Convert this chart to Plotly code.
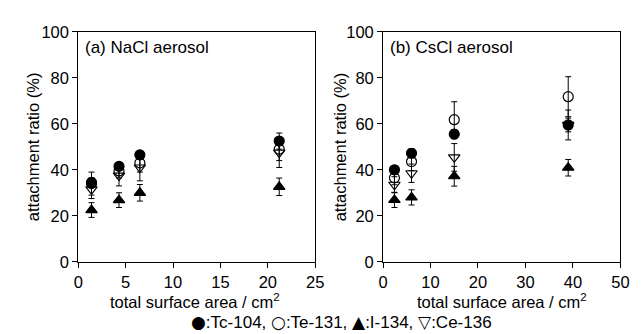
import plotly.graph_objects as go

# ---- data ----
nacl_x = [1.4, 4.3, 6.5, 21.2]
nacl_tc = [34.5, 41.5, 46.5, 52.5]
nacl_tc_err = [2.0, 1.5, 1.8, 3.5]
nacl_te = [34.0, 39.5, 43.0, 49.0]
nacl_te_err = [5.0, 3.0, 4.0, 5.0]
nacl_i = [22.5, 26.8, 30.0, 32.6]
nacl_i_err = [3.2, 3.2, 3.6, 3.8]
nacl_ce = [31.5, 37.5, 41.0, 47.5]
nacl_ce_err = [4.0, 4.5, 5.8, 6.5]

cscl_x = [2.4, 6.0, 15.0, 39.0]
cscl_tc = [40.0, 47.2, 55.5, 59.5]
cscl_tc_err = [1.5, 2.0, 2.0, 3.0]
cscl_te = [36.5, 43.6, 61.8, 71.8]
cscl_te_err = [3.0, 4.0, 7.8, 8.7]
cscl_i = [26.9, 28.0, 37.2, 40.9]
cscl_i_err = [3.3, 3.3, 4.3, 3.6]
cscl_ce = [33.5, 38.5, 45.4, 59.5]
cscl_ce_err = [3.5, 4.0, 6.0, 6.5]

x_ticks_a = [0, 5, 10, 15, 20, 25]
x_ticks_b = [0, 10, 20, 30, 40, 50]
y_ticks = [0, 20, 40, 60, 80, 100]

W, H = 641, 334
FONT = "Liberation Sans, Arial, sans-serif"
FS = 16.5

fig = go.Figure()

def add_series(x, y, err, symbol, xa, ya):
    fig.add_trace(go.Scatter(
        x=x, y=y, mode="markers", xaxis=xa, yaxis=ya,
        marker=dict(symbol=symbol, size=10, color="black",
                    line=dict(color="black", width=1.2)),
        error_y=dict(type="data", array=err, visible=True,
                     color="black", thickness=1, width=3),
        showlegend=False, hoverinfo="skip"))

for xs, sets, xa, ya in [
    (nacl_x, [(nacl_i, nacl_i_err, "triangle-up"),
              (nacl_ce, nacl_ce_err, "triangle-down-open"),
              (nacl_te, nacl_te_err, "circle-open"),
              (nacl_tc, nacl_tc_err, "circle")], "x", "y"),
    (cscl_x, [(cscl_i, cscl_i_err, "triangle-up"),
              (cscl_ce, cscl_ce_err, "triangle-down-open"),
              (cscl_te, cscl_te_err, "circle-open"),
              (cscl_tc, cscl_tc_err, "circle")], "x2", "y2"),
]:
    for y, e, s in sets:
        add_series(xs, y, e, s, xa, ya)

ytop = 1 - 15.7 / H
ybot = 1 - 258.7 / H

axis_common = dict(showgrid=False, zeroline=False, showline=True,
                   linecolor="black", linewidth=1, mirror=True,
                   ticks="outside", ticklen=5, tickcolor="black",
                   tickfont=dict(family=FONT, size=FS, color="black"))

fig.update_layout(
    width=W, height=H,
    margin=dict(l=0, r=0, t=0, b=0),
    paper_bgcolor="white", plot_bgcolor="white",
    font=dict(family=FONT, size=FS, color="black"),
    xaxis=dict(domain=[66.7 / W, 309 / W], range=[0, 25],
               tickvals=x_ticks_a, anchor="y", **axis_common),
    yaxis=dict(domain=[ybot, ytop], range=[0, 100],
               tickvals=y_ticks, anchor="x", **axis_common),
    xaxis2=dict(domain=[378.3 / W, 621 / W], range=[0, 50],
                tickvals=x_ticks_b, anchor="y2", **axis_common),
    yaxis2=dict(domain=[ybot, ytop], range=[0, 100],
                tickvals=y_ticks, anchor="x2", **axis_common),
)

SYM = '<span style="font-family:DejaVu Sans">%s</span>'
legend_text = (SYM % "\u25cf" + ":Tc-104, " + SYM % "\u25cb" + ":Te-131, "
               + SYM % "\u25b2" + ":I-134, " + SYM % "\u25bd" + ":Ce-136")

ymid = 1 - 137 / H
anns = [
    dict(text="attachment ratio (%)", x=20 / W, y=ymid, textangle=-90, size=16.5),
    dict(text="attachment ratio (%)", x=334 / W, y=ymid, textangle=-90, size=16.5),
    dict(text="total surface area / cm<sup>2</sup>", x=186 / W, y=1 - 300 / H, size=16.5),
    dict(text="total surface area / cm<sup>2</sup>", x=500 / W, y=1 - 300 / H, size=16.5),
    dict(text=legend_text, x=336 / W, y=1 - 322 / H, size=17),
    dict(text="(a) NaCl aerosol", x=72 / W, y=1 - 32 / H, xanchor="left", size=17),
    dict(text="(b) CsCl aerosol", x=383 / W, y=1 - 32 / H, xanchor="left", size=17),
]
for a in anns:
    size = a.pop("size")
    d = dict(xref="paper", yref="paper", showarrow=False,
             font=dict(family=FONT, size=size, color="black"),
             xanchor="center", yanchor="middle")
    d.update(a)
    fig.add_annotation(**d)

fig.write_html("out.html")
